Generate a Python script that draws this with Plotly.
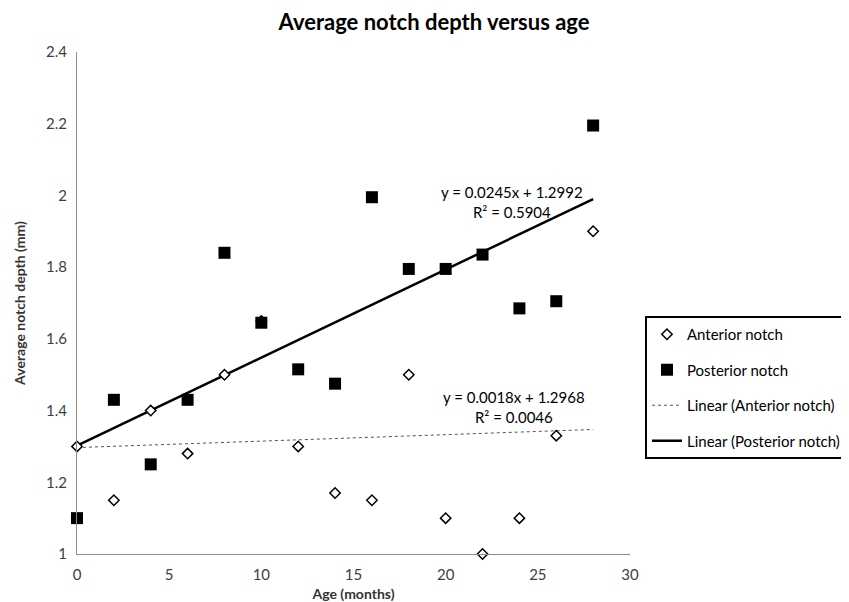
import numpy as np
import plotly.graph_objects as go

ages = [0, 2, 4, 6, 8, 10, 12, 14, 16, 18, 20, 22, 24, 26, 28]
anterior = [1.30, 1.15, 1.40, 1.28, 1.50, 1.65, 1.30, 1.17, 1.15, 1.50, 1.10, 1.00, 1.10, 1.33, 1.90]
posterior = [1.10, 1.43, 1.25, 1.43, 1.84, 1.645, 1.515, 1.475, 1.995, 1.795, 1.795, 1.835, 1.685, 1.705, 2.195]
y_ticks = [1, 1.2, 1.4, 1.6, 1.8, 2, 2.2, 2.4]
y_tick_labels = ["1", "1.2", "1.4", "1.6", "1.8", "2", "2.2", "2.4"]
x_ticks = [0, 5, 10, 15, 20, 25, 30]
eq_post = "y = 0.0245x + 1.2992<br>R² = 0.5904"
eq_ant = "y = 0.0018x + 1.2968<br>R² = 0.0046"

FONT = "Lato, 'Open Sans', sans-serif"

xa = np.array(ages, dtype=float)
pa = np.polyfit(xa, np.array(anterior), 1)
pp = np.polyfit(xa, np.array(posterior), 1)
xfit = np.array([xa.min(), xa.max()])

fig = go.Figure()
fig.add_trace(go.Scatter(
    x=xfit, y=np.polyval(pa, xfit), mode="lines", name="Linear (Anterior notch)",
    line=dict(color="#555555", width=1, dash="dot"), legendgroup="c", legendrank=3))
fig.add_trace(go.Scatter(
    x=xfit, y=np.polyval(pp, xfit), mode="lines", name="Linear (Posterior notch)",
    line=dict(color="black", width=2.5), legendgroup="d", legendrank=4))
fig.add_trace(go.Scatter(
    x=ages, y=anterior, mode="markers", name="Anterior notch",
    marker=dict(symbol="diamond", size=8, color="white", line=dict(color="black", width=1.5)),
    legendgroup="a", legendrank=1, cliponaxis=False))
fig.add_trace(go.Scatter(
    x=ages, y=posterior, mode="markers", name="Posterior notch",
    marker=dict(symbol="square", size=12, color="black", line=dict(color="black", width=0)),
    legendgroup="b", legendrank=2, cliponaxis=False))

fig.add_annotation(x=23.6, y=1.982, xref="x", yref="y", text=eq_post, showarrow=False,
                   font=dict(family=FONT, size=15, color="black"), align="center")
fig.add_annotation(x=23.7, y=1.41, xref="x", yref="y", text=eq_ant, showarrow=False,
                   font=dict(family=FONT, size=15, color="black"), align="center")

fig.update_layout(
    width=841, height=594,
    margin=dict(l=69, r=219, t=44, b=48),
    paper_bgcolor="white", plot_bgcolor="white",
    font=dict(family=FONT, size=14, color="#595959"),
    title=dict(text="<b>Average notch depth versus age</b>", x=0.5066, xanchor="center",
               y=0.976, yanchor="middle", font=dict(family=FONT, size=22, color="black")),
    showlegend=True,
    legend=dict(xref="container", yref="container", x=0.7574, y=0.4815,
                xanchor="left", yanchor="top",
                bordercolor="black", borderwidth=2, bgcolor="white",
                font=dict(family=FONT, size=15, color="black"),
                tracegroupgap=13, traceorder="grouped"),
    xaxis=dict(range=[0, 30], tickvals=x_ticks, showgrid=False, zeroline=False,
               showline=True, linecolor="#8c8c8c", linewidth=1, ticks="",
               automargin=False, ticklabelstandoff=7,
               tickfont=dict(family=FONT, size=15, color="#404040"),
               title=dict(text="<b>Age (months)</b>", standoff=8,
                          font=dict(family=FONT, size=14, color="#333333"))),
    yaxis=dict(range=[1, 2.4], tickvals=y_ticks, ticktext=y_tick_labels, showgrid=False,
               zeroline=False, showline=True, linecolor="#8c8c8c", linewidth=1, ticks="",
               automargin=False, ticklabelstandoff=6,
               tickfont=dict(family=FONT, size=15, color="#404040"),
               title=dict(text="<b>Average notch depth (mm)</b>", standoff=17,
                          font=dict(family=FONT, size=14, color="#333333"))),
)

fig.write_html("out.html")
